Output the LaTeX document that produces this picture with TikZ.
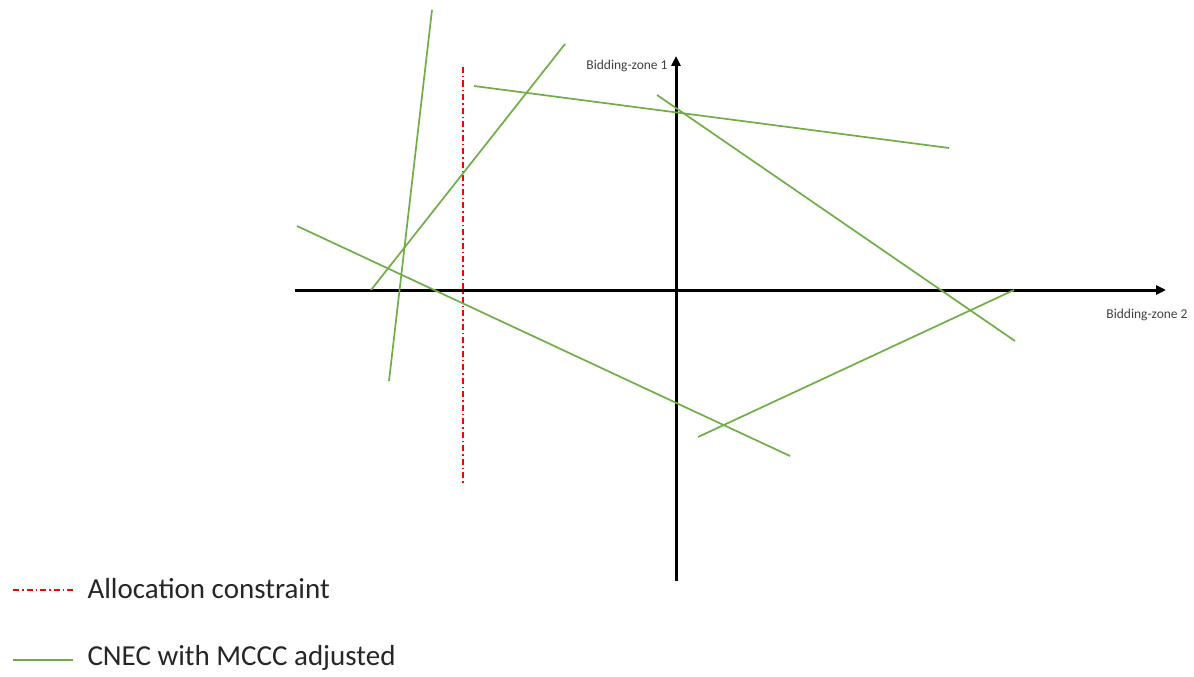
\documentclass[tikz,border=0pt]{standalone}
\usepackage{fontspec}
\setmainfont{Carlito}
\usetikzlibrary{arrows.meta}
\definecolor{cgreen}{RGB}{112,173,71}
\definecolor{cred}{RGB}{255,0,0}
\begin{document}
\begin{tikzpicture}[x=1pt,y=-1pt,
  axis/.style={line width=3pt,-{Triangle[length=10pt,width=9pt]}},
  cnec/.style={cgreen,line width=1.7pt},
  alloc/.style={cred,line width=1.6pt,dash pattern=on 6pt off 3pt on 1.5pt off 3pt},
  axlabel/.style={font=\fontsize{13.5}{15}\selectfont,text=black!75},
  leg/.style={font=\fontsize{29}{33}\selectfont,anchor=west,text=black!85}]
\useasboundingbox (0,0) rectangle (1194,677);
% axes
\coordinate (xs) at (295,290); \coordinate (xe) at (1166,290);
\coordinate (ys) at (676,581); \coordinate (ye) at (676,56);
\draw[axis] (xs) -- (xe);
\draw[axis] (ys) -- (ye);
\node[axlabel] (lx) at (1147,315) {Bidding-zone 2};
\node[axlabel] (ly) at (627,66) {Bidding-zone 1};
% allocation constraint
\coordinate (a1) at (463,67); \coordinate (a2) at (463,485);
\draw[alloc] (a1) -- (a2);
% CNECs
\coordinate (c1a) at (432,10); \coordinate (c1b) at (389,381);
\coordinate (c2a) at (565,44); \coordinate (c2b) at (371,290);
\coordinate (c3a) at (474,86); \coordinate (c3b) at (949,148);
\coordinate (c4a) at (657,95); \coordinate (c4b) at (1015,341);
\coordinate (c5a) at (297,226); \coordinate (c5b) at (790,456);
\coordinate (c6a) at (1014,290); \coordinate (c6b) at (698,437);
\draw[cnec] (c1a) -- (c1b);
\draw[cnec] (c2a) -- (c2b);
\draw[cnec] (c3a) -- (c3b);
\draw[cnec] (c4a) -- (c4b);
\draw[cnec] (c5a) -- (c5b);
\draw[cnec] (c6a) -- (c6b);
% legend
\coordinate (l1a) at (13,590); \coordinate (l1b) at (73,590);
\coordinate (l2a) at (13,660); \coordinate (l2b) at (73,660);
\draw[alloc] (l1a) -- (l1b);
\draw[cnec] (l2a) -- (l2b);
\node[leg] (t1) at (84,589) {Allocation constraint};
\node[leg] (t2) at (84,658) {CNEC with MCCC adjusted};
\end{tikzpicture}
\end{document}
